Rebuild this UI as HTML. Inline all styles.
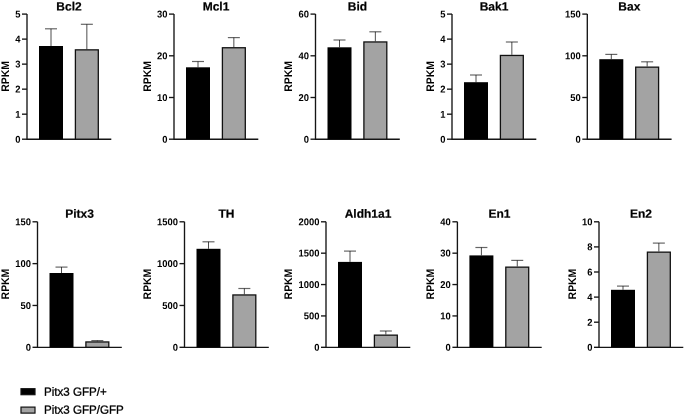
<!DOCTYPE html>
<html><head><meta charset="utf-8"><title>RPKM bar charts</title><style>
html,body{margin:0;padding:0;background:#fff;}
svg{display:block;will-change:transform;}
text{font-family:"Liberation Sans",sans-serif;fill:#000;text-rendering:geometricPrecision;}
.t{font-size:9.6px;font-weight:bold;text-anchor:end;}
.ti{font-size:12px;font-weight:bold;text-anchor:middle;stroke:#000;stroke-width:0.2px;}
.r{font-size:11px;font-weight:bold;text-anchor:middle;}
.l{font-size:11.6px;stroke:#000;stroke-width:0.3px;}
</style></head><body>
<svg width="685" height="416" viewBox="0 0 685 416">
<rect width="685" height="416" fill="#fff"/>
<path d="M27 14.1V139.2H111.3" fill="none" stroke="#151515" stroke-width="1.35"/>
<path d="M22 139.2H27" stroke="#151515" stroke-width="1.35"/>
<text transform="translate(20.4 142.65) skewY(0.05) scale(0.98 1.03)" class="t">0</text>
<path d="M22 114.18H27" stroke="#151515" stroke-width="1.35"/>
<text transform="translate(20.4 117.63) skewY(0.05) scale(0.98 1.03)" class="t">1</text>
<path d="M22 89.16H27" stroke="#151515" stroke-width="1.35"/>
<text transform="translate(20.4 92.61) skewY(0.05) scale(0.98 1.03)" class="t">2</text>
<path d="M22 64.14H27" stroke="#151515" stroke-width="1.35"/>
<text transform="translate(20.4 67.59) skewY(0.05) scale(0.98 1.03)" class="t">3</text>
<path d="M22 39.12H27" stroke="#151515" stroke-width="1.35"/>
<text transform="translate(20.4 42.57) skewY(0.05) scale(0.98 1.03)" class="t">4</text>
<path d="M22 14.1H27" stroke="#151515" stroke-width="1.35"/>
<text transform="translate(20.4 17.55) skewY(0.05) scale(0.98 1.03)" class="t">5</text>
<rect x="39" y="46" width="24" height="93.2" fill="#000"/>
<path d="M51 46V28.8" stroke="#000" stroke-opacity="0.7" stroke-width="1.0"/>
<path d="M45 28.8H57" stroke="#000" stroke-opacity="0.6" stroke-width="1.2"/>
<rect x="75.4" y="49.85" width="22.9" height="89.35" fill="#a3a3a3" stroke="#111" stroke-width="1.3"/>
<path d="M86.85 49.2V24.3" stroke="#000" stroke-opacity="0.7" stroke-width="1.0"/>
<path d="M80.85 24.3H92.85" stroke="#000" stroke-opacity="0.6" stroke-width="1.2"/>
<text transform="translate(69 10.45) skewY(0.05)" class="ti">Bcl2</text>
<text transform="translate(9 76.4) rotate(-90) scale(0.947 1)" class="r">RPKM</text>
<path d="M174 14.1V139.2H258.3" fill="none" stroke="#151515" stroke-width="1.35"/>
<path d="M169 139.2H174" stroke="#151515" stroke-width="1.35"/>
<text transform="translate(167.4 142.65) skewY(0.05) scale(0.98 1.03)" class="t">0</text>
<path d="M169 97.5H174" stroke="#151515" stroke-width="1.35"/>
<text transform="translate(167.4 100.95) skewY(0.05) scale(0.98 1.03)" class="t">10</text>
<path d="M169 55.8H174" stroke="#151515" stroke-width="1.35"/>
<text transform="translate(167.4 59.25) skewY(0.05) scale(0.98 1.03)" class="t">20</text>
<path d="M169 14.1H174" stroke="#151515" stroke-width="1.35"/>
<text transform="translate(167.4 17.55) skewY(0.05) scale(0.98 1.03)" class="t">30</text>
<rect x="186" y="67.3" width="24" height="71.9" fill="#000"/>
<path d="M198 67.3V61.5" stroke="#000" stroke-opacity="0.7" stroke-width="1.0"/>
<path d="M192 61.5H204" stroke="#000" stroke-opacity="0.6" stroke-width="1.2"/>
<rect x="222.4" y="47.75" width="22.9" height="91.45" fill="#a3a3a3" stroke="#111" stroke-width="1.3"/>
<path d="M233.85 47.1V37.6" stroke="#000" stroke-opacity="0.7" stroke-width="1.0"/>
<path d="M227.85 37.6H239.85" stroke="#000" stroke-opacity="0.6" stroke-width="1.2"/>
<text transform="translate(216 10.45) skewY(0.05)" class="ti">Mcl1</text>
<text transform="translate(150.9 76.4) rotate(-90) scale(0.947 1)" class="r">RPKM</text>
<path d="M315.5 14.1V139.2H399.8" fill="none" stroke="#151515" stroke-width="1.35"/>
<path d="M310.5 139.2H315.5" stroke="#151515" stroke-width="1.35"/>
<text transform="translate(308.9 142.65) skewY(0.05) scale(0.98 1.03)" class="t">0</text>
<path d="M310.5 97.5H315.5" stroke="#151515" stroke-width="1.35"/>
<text transform="translate(308.9 100.95) skewY(0.05) scale(0.98 1.03)" class="t">20</text>
<path d="M310.5 55.8H315.5" stroke="#151515" stroke-width="1.35"/>
<text transform="translate(308.9 59.25) skewY(0.05) scale(0.98 1.03)" class="t">40</text>
<path d="M310.5 14.1H315.5" stroke="#151515" stroke-width="1.35"/>
<text transform="translate(308.9 17.55) skewY(0.05) scale(0.98 1.03)" class="t">60</text>
<rect x="327.5" y="47.3" width="24" height="91.9" fill="#000"/>
<path d="M339.5 47.3V40" stroke="#000" stroke-opacity="0.7" stroke-width="1.0"/>
<path d="M333.5 40H345.5" stroke="#000" stroke-opacity="0.6" stroke-width="1.2"/>
<rect x="363.9" y="41.95" width="22.9" height="97.25" fill="#a3a3a3" stroke="#111" stroke-width="1.3"/>
<path d="M375.35 41.3V31.8" stroke="#000" stroke-opacity="0.7" stroke-width="1.0"/>
<path d="M369.35 31.8H381.35" stroke="#000" stroke-opacity="0.6" stroke-width="1.2"/>
<text transform="translate(357.5 10.45) skewY(0.05)" class="ti">Bid</text>
<text transform="translate(292.4 76.4) rotate(-90) scale(0.947 1)" class="r">RPKM</text>
<path d="M452 14.1V139.2H536.3" fill="none" stroke="#151515" stroke-width="1.35"/>
<path d="M447 139.2H452" stroke="#151515" stroke-width="1.35"/>
<text transform="translate(445.4 142.65) skewY(0.05) scale(0.98 1.03)" class="t">0</text>
<path d="M447 114.18H452" stroke="#151515" stroke-width="1.35"/>
<text transform="translate(445.4 117.63) skewY(0.05) scale(0.98 1.03)" class="t">1</text>
<path d="M447 89.16H452" stroke="#151515" stroke-width="1.35"/>
<text transform="translate(445.4 92.61) skewY(0.05) scale(0.98 1.03)" class="t">2</text>
<path d="M447 64.14H452" stroke="#151515" stroke-width="1.35"/>
<text transform="translate(445.4 67.59) skewY(0.05) scale(0.98 1.03)" class="t">3</text>
<path d="M447 39.12H452" stroke="#151515" stroke-width="1.35"/>
<text transform="translate(445.4 42.57) skewY(0.05) scale(0.98 1.03)" class="t">4</text>
<path d="M447 14.1H452" stroke="#151515" stroke-width="1.35"/>
<text transform="translate(445.4 17.55) skewY(0.05) scale(0.98 1.03)" class="t">5</text>
<rect x="464" y="82.2" width="24" height="57" fill="#000"/>
<path d="M476 82.2V75" stroke="#000" stroke-opacity="0.7" stroke-width="1.0"/>
<path d="M470 75H482" stroke="#000" stroke-opacity="0.6" stroke-width="1.2"/>
<rect x="500.4" y="55.45" width="22.9" height="83.75" fill="#a3a3a3" stroke="#111" stroke-width="1.3"/>
<path d="M511.85 54.8V42" stroke="#000" stroke-opacity="0.7" stroke-width="1.0"/>
<path d="M505.85 42H517.85" stroke="#000" stroke-opacity="0.6" stroke-width="1.2"/>
<text transform="translate(494 10.45) skewY(0.05)" class="ti">Bak1</text>
<text transform="translate(434.05 76.4) rotate(-90) scale(0.947 1)" class="r">RPKM</text>
<path d="M587.3 14.1V139.2H671.6" fill="none" stroke="#151515" stroke-width="1.35"/>
<path d="M582.3 139.2H587.3" stroke="#151515" stroke-width="1.35"/>
<text transform="translate(580.7 142.65) skewY(0.05) scale(0.98 1.03)" class="t">0</text>
<path d="M582.3 97.5H587.3" stroke="#151515" stroke-width="1.35"/>
<text transform="translate(580.7 100.95) skewY(0.05) scale(0.98 1.03)" class="t">50</text>
<path d="M582.3 55.8H587.3" stroke="#151515" stroke-width="1.35"/>
<text transform="translate(580.7 59.25) skewY(0.05) scale(0.98 1.03)" class="t">100</text>
<path d="M582.3 14.1H587.3" stroke="#151515" stroke-width="1.35"/>
<text transform="translate(580.7 17.55) skewY(0.05) scale(0.98 1.03)" class="t">150</text>
<rect x="599.3" y="59.2" width="24" height="80" fill="#000"/>
<path d="M611.3 59.2V54.4" stroke="#000" stroke-opacity="0.7" stroke-width="1.0"/>
<path d="M605.3 54.4H617.3" stroke="#000" stroke-opacity="0.6" stroke-width="1.2"/>
<rect x="635.7" y="67.15" width="22.9" height="72.05" fill="#a3a3a3" stroke="#111" stroke-width="1.3"/>
<path d="M647.15 66.5V61.8" stroke="#000" stroke-opacity="0.7" stroke-width="1.0"/>
<path d="M641.15 61.8H653.15" stroke="#000" stroke-opacity="0.6" stroke-width="1.2"/>
<text transform="translate(629.3 10.45) skewY(0.05)" class="ti">Bax</text>
<path d="M37.5 221.8V347.3H121.8" fill="none" stroke="#151515" stroke-width="1.35"/>
<path d="M32.5 347.3H37.5" stroke="#151515" stroke-width="1.35"/>
<text transform="translate(30.9 350.75) skewY(0.05) scale(0.98 1.03)" class="t">0</text>
<path d="M32.5 305.47H37.5" stroke="#151515" stroke-width="1.35"/>
<text transform="translate(30.9 308.92) skewY(0.05) scale(0.98 1.03)" class="t">50</text>
<path d="M32.5 263.63H37.5" stroke="#151515" stroke-width="1.35"/>
<text transform="translate(30.9 267.08) skewY(0.05) scale(0.98 1.03)" class="t">100</text>
<path d="M32.5 221.8H37.5" stroke="#151515" stroke-width="1.35"/>
<text transform="translate(30.9 225.25) skewY(0.05) scale(0.98 1.03)" class="t">150</text>
<rect x="49.5" y="273" width="24" height="74.3" fill="#000"/>
<path d="M61.5 273V267.1" stroke="#000" stroke-opacity="0.7" stroke-width="1.0"/>
<path d="M55.5 267.1H67.5" stroke="#000" stroke-opacity="0.6" stroke-width="1.2"/>
<rect x="85.9" y="341.95" width="22.9" height="5.35" fill="#a3a3a3" stroke="#111" stroke-width="1.3"/>
<path d="M97.35 341.3V340.6" stroke="#000" stroke-opacity="0.7" stroke-width="1.0"/>
<path d="M91.35 340.6H103.35" stroke="#000" stroke-opacity="0.6" stroke-width="1.2"/>
<text transform="translate(79.5 217.8) skewY(0.05)" class="ti">Pitx3</text>
<text transform="translate(9 284.05) rotate(-90) scale(0.947 1)" class="r">RPKM</text>
<path d="M184.5 221.8V347.3H268.8" fill="none" stroke="#151515" stroke-width="1.35"/>
<path d="M179.5 347.3H184.5" stroke="#151515" stroke-width="1.35"/>
<text transform="translate(177.9 350.75) skewY(0.05) scale(0.98 1.03)" class="t">0</text>
<path d="M179.5 305.47H184.5" stroke="#151515" stroke-width="1.35"/>
<text transform="translate(177.9 308.92) skewY(0.05) scale(0.98 1.03)" class="t">500</text>
<path d="M179.5 263.63H184.5" stroke="#151515" stroke-width="1.35"/>
<text transform="translate(177.9 267.08) skewY(0.05) scale(0.98 1.03)" class="t">1000</text>
<path d="M179.5 221.8H184.5" stroke="#151515" stroke-width="1.35"/>
<text transform="translate(177.9 225.25) skewY(0.05) scale(0.98 1.03)" class="t">1500</text>
<rect x="196.5" y="248.8" width="24" height="98.5" fill="#000"/>
<path d="M208.5 248.8V241.8" stroke="#000" stroke-opacity="0.7" stroke-width="1.0"/>
<path d="M202.5 241.8H214.5" stroke="#000" stroke-opacity="0.6" stroke-width="1.2"/>
<rect x="232.9" y="294.95" width="22.9" height="52.35" fill="#a3a3a3" stroke="#111" stroke-width="1.3"/>
<path d="M244.35 294.3V288.5" stroke="#000" stroke-opacity="0.7" stroke-width="1.0"/>
<path d="M238.35 288.5H250.35" stroke="#000" stroke-opacity="0.6" stroke-width="1.2"/>
<text transform="translate(226.5 217.8) skewY(0.05)" class="ti">TH</text>
<text transform="translate(150.9 284.05) rotate(-90) scale(0.947 1)" class="r">RPKM</text>
<path d="M326 221.8V347.3H410.3" fill="none" stroke="#151515" stroke-width="1.35"/>
<path d="M321 347.3H326" stroke="#151515" stroke-width="1.35"/>
<text transform="translate(319.4 350.75) skewY(0.05) scale(0.98 1.03)" class="t">0</text>
<path d="M321 315.93H326" stroke="#151515" stroke-width="1.35"/>
<text transform="translate(319.4 319.38) skewY(0.05) scale(0.98 1.03)" class="t">500</text>
<path d="M321 284.55H326" stroke="#151515" stroke-width="1.35"/>
<text transform="translate(319.4 288) skewY(0.05) scale(0.98 1.03)" class="t">1000</text>
<path d="M321 253.18H326" stroke="#151515" stroke-width="1.35"/>
<text transform="translate(319.4 256.62) skewY(0.05) scale(0.98 1.03)" class="t">1500</text>
<path d="M321 221.8H326" stroke="#151515" stroke-width="1.35"/>
<text transform="translate(319.4 225.25) skewY(0.05) scale(0.98 1.03)" class="t">2000</text>
<rect x="338" y="261.9" width="24" height="85.4" fill="#000"/>
<path d="M350 261.9V251.1" stroke="#000" stroke-opacity="0.7" stroke-width="1.0"/>
<path d="M344 251.1H356" stroke="#000" stroke-opacity="0.6" stroke-width="1.2"/>
<rect x="374.4" y="335.15" width="22.9" height="12.15" fill="#a3a3a3" stroke="#111" stroke-width="1.3"/>
<path d="M385.85 334.5V331" stroke="#000" stroke-opacity="0.7" stroke-width="1.0"/>
<path d="M379.85 331H391.85" stroke="#000" stroke-opacity="0.6" stroke-width="1.2"/>
<text transform="translate(368 217.8) skewY(0.05)" class="ti">Aldh1a1</text>
<text transform="translate(292.4 284.05) rotate(-90) scale(0.947 1)" class="r">RPKM</text>
<path d="M457.4 221.8V347.3H541.7" fill="none" stroke="#151515" stroke-width="1.35"/>
<path d="M452.4 347.3H457.4" stroke="#151515" stroke-width="1.35"/>
<text transform="translate(450.8 350.75) skewY(0.05) scale(0.98 1.03)" class="t">0</text>
<path d="M452.4 315.93H457.4" stroke="#151515" stroke-width="1.35"/>
<text transform="translate(450.8 319.38) skewY(0.05) scale(0.98 1.03)" class="t">10</text>
<path d="M452.4 284.55H457.4" stroke="#151515" stroke-width="1.35"/>
<text transform="translate(450.8 288) skewY(0.05) scale(0.98 1.03)" class="t">20</text>
<path d="M452.4 253.18H457.4" stroke="#151515" stroke-width="1.35"/>
<text transform="translate(450.8 256.62) skewY(0.05) scale(0.98 1.03)" class="t">30</text>
<path d="M452.4 221.8H457.4" stroke="#151515" stroke-width="1.35"/>
<text transform="translate(450.8 225.25) skewY(0.05) scale(0.98 1.03)" class="t">40</text>
<rect x="469.4" y="255.4" width="24" height="91.9" fill="#000"/>
<path d="M481.4 255.4V247.5" stroke="#000" stroke-opacity="0.7" stroke-width="1.0"/>
<path d="M475.4 247.5H487.4" stroke="#000" stroke-opacity="0.6" stroke-width="1.2"/>
<rect x="505.8" y="267.15" width="22.9" height="80.15" fill="#a3a3a3" stroke="#111" stroke-width="1.3"/>
<path d="M517.25 266.5V260.4" stroke="#000" stroke-opacity="0.7" stroke-width="1.0"/>
<path d="M511.25 260.4H523.25" stroke="#000" stroke-opacity="0.6" stroke-width="1.2"/>
<text transform="translate(499.4 217.8) skewY(0.05)" class="ti">En1</text>
<text transform="translate(434.05 284.05) rotate(-90) scale(0.947 1)" class="r">RPKM</text>
<path d="M599 221.8V347.3H683.3" fill="none" stroke="#151515" stroke-width="1.35"/>
<path d="M594 347.3H599" stroke="#151515" stroke-width="1.35"/>
<text transform="translate(592.4 350.75) skewY(0.05) scale(0.98 1.03)" class="t">0</text>
<path d="M594 322.2H599" stroke="#151515" stroke-width="1.35"/>
<text transform="translate(592.4 325.65) skewY(0.05) scale(0.98 1.03)" class="t">2</text>
<path d="M594 297.1H599" stroke="#151515" stroke-width="1.35"/>
<text transform="translate(592.4 300.55) skewY(0.05) scale(0.98 1.03)" class="t">4</text>
<path d="M594 272H599" stroke="#151515" stroke-width="1.35"/>
<text transform="translate(592.4 275.45) skewY(0.05) scale(0.98 1.03)" class="t">6</text>
<path d="M594 246.9H599" stroke="#151515" stroke-width="1.35"/>
<text transform="translate(592.4 250.35) skewY(0.05) scale(0.98 1.03)" class="t">8</text>
<path d="M594 221.8H599" stroke="#151515" stroke-width="1.35"/>
<text transform="translate(592.4 225.25) skewY(0.05) scale(0.98 1.03)" class="t">10</text>
<rect x="611" y="289.8" width="24" height="57.5" fill="#000"/>
<path d="M623 289.8V286.1" stroke="#000" stroke-opacity="0.7" stroke-width="1.0"/>
<path d="M617 286.1H629" stroke="#000" stroke-opacity="0.6" stroke-width="1.2"/>
<rect x="647.4" y="252.15" width="22.9" height="95.15" fill="#a3a3a3" stroke="#111" stroke-width="1.3"/>
<path d="M658.85 251.5V243.1" stroke="#000" stroke-opacity="0.7" stroke-width="1.0"/>
<path d="M652.85 243.1H664.85" stroke="#000" stroke-opacity="0.6" stroke-width="1.2"/>
<text transform="translate(641 217.8) skewY(0.05)" class="ti">En2</text>
<text transform="translate(576 284.05) rotate(-90) scale(0.947 1)" class="r">RPKM</text>
<rect x="21" y="388.7" width="14" height="6" fill="#000" stroke="#111" stroke-width="1.2"/>
<rect x="21" y="407.1" width="14" height="6" fill="#a3a3a3" stroke="#111" stroke-width="1.2"/>
<text transform="translate(43.9 395.8) skewY(0.05) scale(1 1.03)" class="l">Pitx3 GFP/+</text>
<text transform="translate(43.9 413.7) skewY(0.05) scale(1 1.03)" class="l">Pitx3 GFP/GFP</text>
</svg>
</body></html>
